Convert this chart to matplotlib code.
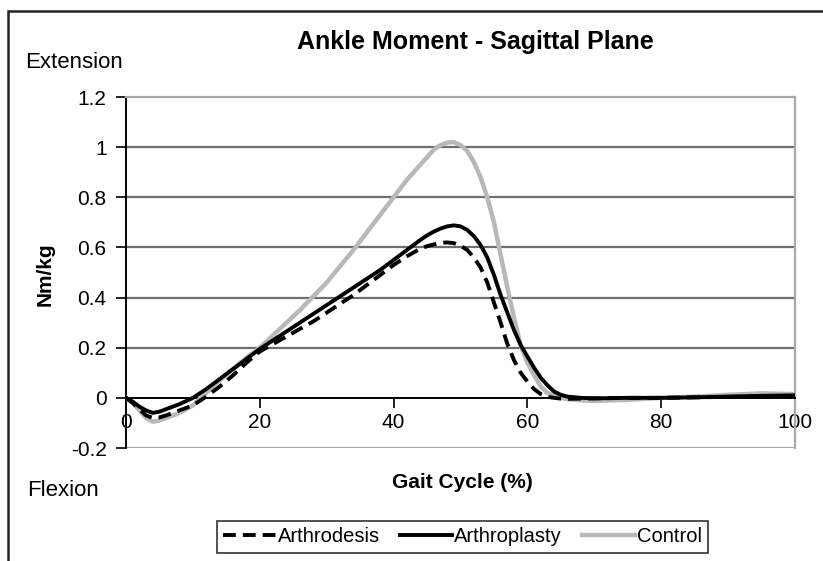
import matplotlib
matplotlib.use("Agg")
import matplotlib.pyplot as plt
from matplotlib.patches import Rectangle

plt.rcParams['font.family'] = ['Liberation Sans', 'DejaVu Sans']

# ---------------  Data  ------------

gait = [0, 1, 2, 3, 4, 5, 6, 8, 10, 12, 14, 16, 18, 20, 22, 24, 26, 28, 30, 32, 34, 36, 38,
        40, 42, 44, 45, 46, 47, 48, 49, 50, 51, 52, 53, 54, 55, 56, 57, 58, 59, 60, 61, 62,
        63, 64, 65, 66, 68, 70, 75, 80, 85, 90, 95, 100]

arthrodesis = [0, -0.02, -0.045, -0.07, -0.08, -0.078, -0.07, -0.05, -0.03, 0.005, 0.045, 0.09,
               0.14, 0.185, 0.215, 0.245, 0.275, 0.305, 0.34, 0.375, 0.41, 0.45, 0.49,
               0.53, 0.565, 0.595, 0.605, 0.612, 0.618, 0.62, 0.617, 0.607, 0.59, 0.56, 0.52,
               0.46, 0.38, 0.30, 0.215, 0.15, 0.10, 0.065, 0.035, 0.015,
               0.004, 0.0, -0.003, -0.004, -0.003, -0.002, 0.0, 0.0, 0.002, 0.004, 0.006, 0.008]

arthroplasty = [0, -0.015, -0.035, -0.05, -0.06, -0.055, -0.045, -0.025, 0.0, 0.035, 0.075, 0.115,
                0.155, 0.195, 0.23, 0.265, 0.3, 0.335, 0.37, 0.405, 0.44, 0.475, 0.51,
                0.55, 0.59, 0.63, 0.648, 0.663, 0.675, 0.684, 0.688, 0.684, 0.67, 0.645, 0.61,
                0.56, 0.49, 0.41, 0.34, 0.27, 0.21, 0.165, 0.12, 0.08,
                0.05, 0.025, 0.012, 0.005, 0.0, -0.002, 0.0, 0.0, 0.002, 0.005, 0.008, 0.01]

control = [0, -0.02, -0.05, -0.08, -0.095, -0.09, -0.08, -0.06, -0.03, 0.02, 0.07, 0.115,
           0.16, 0.20, 0.25, 0.30, 0.35, 0.405, 0.46, 0.525, 0.59, 0.66, 0.73,
           0.80, 0.87, 0.93, 0.96, 0.99, 1.008, 1.018, 1.02, 1.008, 0.985, 0.94, 0.88,
           0.80, 0.70, 0.57, 0.44, 0.32, 0.21, 0.14, 0.09, 0.045,
           0.02, 0.008, 0.0, -0.005, -0.01, -0.012, -0.008, 0.0, 0.005, 0.012, 0.018, 0.015]

x_ticks = [0, 20, 40, 60, 80, 100]
y_ticks = [-0.2, 0, 0.2, 0.4, 0.6, 0.8, 1, 1.2]
y_labels = ['-0.2', '0', '0.2', '0.4', '0.6', '0.8', '1', '1.2']

# ---------------  Plot  ------------

W, H = 823, 561
fig = plt.figure(figsize=(W / 100, H / 100), dpi=100)
ax = fig.add_axes([126 / W, 1 - 448 / H, (795 - 126) / W, (448 - 97) / H])

# gridlines and plot area border
for v in [0.2, 0.4, 0.6, 0.8, 1.0]:
    ax.axhline(v, color='#6e6e6e', lw=1.6, zorder=1)
for s in ['top', 'right']:
    ax.spines[s].set_color('#a8a8a8')
    ax.spines[s].set_linewidth(1.6)
ax.axhline(-0.2, color='#a8a8a8', lw=1.6, zorder=1)

ax.plot(gait, control, color='#b8b8b8', lw=3.2, label='Control', zorder=3)
ax.plot(gait, arthroplasty, color='black', lw=2.8, label='Arthroplasty', zorder=4)
ax.plot(gait, arthrodesis, color='black', lw=2.8, ls=(0, (3.3, 1.8)), label='Arthrodesis', zorder=5)

ax.set_xlim(0, 100)
ax.set_ylim(-0.2, 1.2)
ax.spines['bottom'].set_position(('data', 0))
ax.spines['bottom'].set_linewidth(1.4)
ax.spines['left'].set_linewidth(1.4)
ax.set_xticks(x_ticks)
ax.set_yticks(y_ticks)
ax.set_yticklabels(y_labels)
ax.tick_params(axis='both', direction='out', length=7, width=1.2, labelsize=15, colors='black')
ax.tick_params(axis='x', pad=4)
ax.tick_params(axis='y', pad=7)

# text around the chart
fig.text(475 / W, 1 - 42 / H, 'Ankle Moment - Sagittal Plane', ha='center', va='center',
         fontsize=18, fontweight='bold')
fig.text(25 / W, 1 - 62 / H, 'Extension', ha='left', va='center', fontsize=16)
fig.text(27 / W, 1 - 490 / H, 'Flexion', ha='left', va='center', fontsize=16)
fig.text(45 / W, 1 - 274 / H, 'Nm/kg', ha='center', va='center', rotation=90,
         fontsize=15, fontweight='bold')
fig.text(462 / W, 1 - 482 / H, 'Gait Cycle (%)', ha='center', va='center',
         fontsize=15, fontweight='bold')

# legend in the original order
handles, labels = ax.get_legend_handles_labels()
order = [2, 1, 0]
leg = fig.legend([handles[i] for i in order], [labels[i] for i in order],
                 loc='center', bbox_to_anchor=((218 + 707) / 2 / W, 1 - 537 / H),
                 ncol=3, fontsize=14.5, frameon=True, fancybox=False, handlelength=2.6,
                 handletextpad=0.1, columnspacing=1.0, borderpad=0.3, borderaxespad=0)
leg.get_frame().set_edgecolor('black')
leg.get_frame().set_linewidth(1.2)

# outer chart frame (cut off at right and bottom)
fig.patches.append(Rectangle((8 / W, -0.05), 1.1, 1 - 11 / H + 0.05, transform=fig.transFigure,
                             fill=False, edgecolor='#222222', lw=1.8))

fig.savefig('out.png', dpi=100)
